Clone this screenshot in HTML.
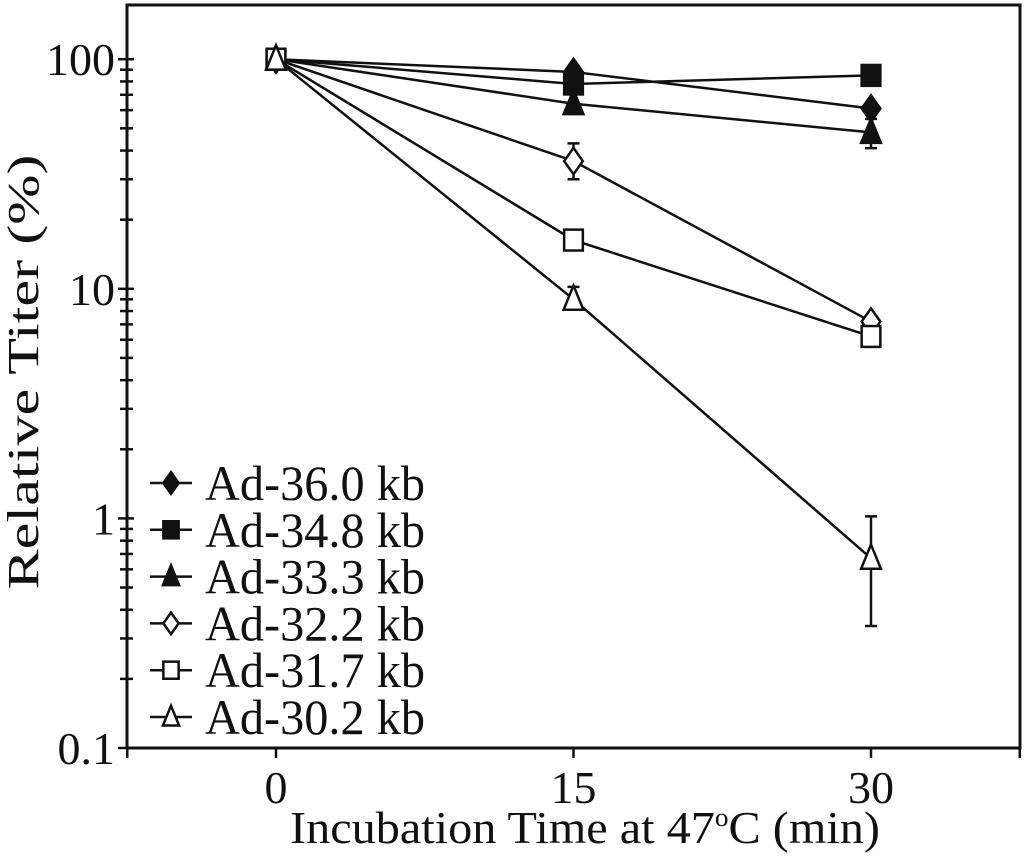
<!DOCTYPE html>
<html><head><meta charset="utf-8"><style>
html,body{margin:0;padding:0;background:#fff;}
svg{display:block;font-family:"Liberation Serif",serif;}
</style></head><body>
<svg id="chart" width="1024" height="858" viewBox="0 0 1024 858">
<g id="axes"></g><g id="series"></g><g id="legend"></g>
<text x="38" y="372" font-size="44" text-anchor="middle" transform="rotate(-90 38 372)" fill="#111" textLength="435" lengthAdjust="spacingAndGlyphs">Relative Titer (%)</text>
<text x="290" y="843" font-size="46" fill="#111" textLength="590" lengthAdjust="spacingAndGlyphs">Incubation Time at 47<tspan font-size="26" dy="-17">o</tspan><tspan dy="17">C (min)</tspan></text>
</svg>
<script>
const times=[0,15,30];
const seriesNames=["Ad-36.0 kb","Ad-34.8 kb","Ad-33.3 kb","Ad-32.2 kb","Ad-31.7 kb","Ad-30.2 kb"];
const s360=[100,88,61];
const s348=[100,78,85];
const s333=[100,64,48];
const s322=[100,36,7.2];
const s317=[100,16.3,6.2];
const s302=[100,9,0.67];
const errLow=[[null,null,null],[null,null,null],[null,null,41],[null,30,null],[null,14.8,null],[null,8.2,0.34]];
const errHigh=[[null,null,null],[null,null,null],[null,null,55],[null,43,null],[null,17.5,null],[null,10.2,1.02]];
const xTicks=[0,15,30];
const yTicks=[0.1,1,10,100];
const yTickLabels=["0.1","1","10","100"];
const markers=["diamond","square","triangle","diamond","square","triangle"];
const filled=[true,true,true,false,false,false];
const allSeries=[s360,s348,s333,s322,s317,s302];

const NS="http://www.w3.org/2000/svg";
const L=127,R=1020,T=5,B=748;
const xS=t=>276+t*(871-276)/30;
const yS=v=>748-(Math.log10(v)+1)*229.6;
function mk(tag,attrs,parent){const e=document.createElementNS(NS,tag);for(const k in attrs)e.setAttribute(k,attrs[k]);parent.appendChild(e);return e;}
const axes=document.getElementById('axes');
let f=mk('rect',{x:L,y:T,width:R-L,height:B-T,fill:'none',stroke:'#111','stroke-width':3},axes);


yTicks.forEach((v,i)=>{
  const y=yS(v);
  let t=mk('line',{x1:L-9,x2:L+7,y1:y,y2:y,stroke:'#111','stroke-width':2.5},axes);
  
  
  let tx=mk('text',{x:L-12,y:y+16,'font-size':46,'text-anchor':'end',fill:'#111'},axes);
  tx.textContent=yTickLabels[i];
  
  
  if(i<yTicks.length-1){for(let m=2;m<=9;m++){const ym=yS(v*m);
    let mt=mk('line',{x1:L-7,x2:L+6,y1:ym,y2:ym,stroke:'#111','stroke-width':2.5},axes);
    
    }}
});
[-7.5,0,15,30,37.5].forEach(v=>{
  const x=Math.min(Math.max(xS(v),L),R);
  let t=mk('line',{x1:x,x2:x,y1:B,y2:B+10,stroke:'#111','stroke-width':2.5},axes);
  
  
});
xTicks.forEach(v=>{
  let tx=mk('text',{x:xS(v),y:803,'font-size':46,'text-anchor':'middle',fill:'#111'},axes);
  tx.textContent=String(v);
  
  
});
function marker(type,fill,x,y,s,parent){
  const st={fill:fill?'#111':'#fff',stroke:'#111','stroke-width':2.5};
  let e;
  if(type==='diamond')e=mk('polygon',Object.assign({points:`${x},${y-s*1.2} ${x+s*0.85},${y} ${x},${y+s*1.2} ${x-s*0.85},${y}`},st),parent);
  else if(type==='square')e=mk('rect',Object.assign({x:x-s*0.85,y:y-s*0.95,width:s*1.7,height:s*1.9},st),parent);
  else e=mk('polygon',Object.assign({points:`${x},${y-s*1.25} ${x+s*0.9},${y+s*0.95} ${x-s*0.9},${y+s*0.95}`},st),parent);
  return e;
}
const sg=document.getElementById('series');
allSeries.forEach((vals,si)=>{
  const g=mk('g',{},sg);
  
  
  const pts=vals.map((v,i)=>xS(times[i])+','+yS(v)).join(' ');
  let pl=mk('polyline',{points:pts,fill:'none',stroke:'#111','stroke-width':2.5},g);
  
  
  vals.forEach((v,i)=>{
    const lo=errLow[si][i],hi=errHigh[si][i];
    if(lo!==null){const x=xS(times[i]);
      let eb=mk('path',{d:`M${x},${yS(lo)}V${yS(hi)}M${x-6},${yS(lo)}H${x+6}M${x-6},${yS(hi)}H${x+6}`,stroke:'#111','stroke-width':2.5,fill:'none'},g);
      
      }
  });
  vals.forEach((v,i)=>{
    let m=marker(markers[si],filled[si],xS(times[i]),yS(v),11,g);
    
    
  });
});
const lg=document.getElementById('legend');
seriesNames.forEach((n,i)=>{
  const y=483+i*46.8;
  const g=mk('g',{},lg);
  
  
  mk('line',{x1:150,x2:192,y1:y,y2:y,stroke:'#111','stroke-width':2.5},g);
  marker(markers[i],filled[i],171,y,9,g);
  let t=mk('text',{x:205,y:y+17,'font-size':50,fill:'#111',textLength:220,lengthAdjust:'spacingAndGlyphs'},g);
  t.textContent=n;
});
</script>
</body></html>
